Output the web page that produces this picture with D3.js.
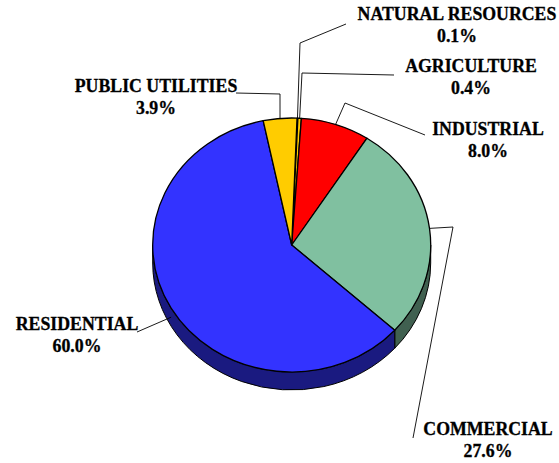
<!DOCTYPE html>
<html><head><meta charset="utf-8">
<script src="https://cdn.jsdelivr.net/npm/d3@7"></script>
<style>
html,body{margin:0;padding:0;background:#fff;}
svg{display:block;}
</style></head>
<body>
<svg id="c" width="559" height="463"></svg>
<script>
// Data (clockwise from 12 o'clock)
const categories = ["NATURAL RESOURCES","AGRICULTURE","INDUSTRIAL","COMMERCIAL","RESIDENTIAL","PUBLIC UTILITIES"];
const values = [0.1, 0.4, 8.0, 27.6, 60.0, 3.9];
const valueLabels = ["0.1%","0.4%","8.0%","27.6%","60.0%","3.9%"];

// Styles / layout
const topColors  = ["#3333FF","#FFCC00","#FF0000","#80C0A0","#3333FF","#FFCC00"];
const sideColors = ["#1A1A80","#806600","#800000","#406050","#1A1A80","#806600"];
const cx = 291.7, cy = 245, rx = 139, ry = 127, depth = 18;
const startAngle = 2.2 * Math.PI / 180;
// label layout: text centre x, first baseline y, elbow points
const labelLayout = [
  {tx:457, ty:20,  pts:[[300,43],[346,24]]},
  {tx:471, ty:72,  pts:[[302,73],[394,75]]},
  {tx:488, ty:135, pts:[[345,103],[425,135]]},
  {tx:488, ty:435, pts:[[453,227],[413,438]]},
  {tx:77,  ty:330, pts:[[137,332]]},
  {tx:156, ty:92,  pts:[[280,94],[236,93]]}
];

const svg = d3.select("#c");
const pie = d3.pie().sort(null).value(d => d).startAngle(startAngle).endAngle(startAngle + 2*Math.PI);
const arcs = pie(values);
const k = ry / rx;
const D = depth / k;
const g = svg.append("g").attr("transform", `translate(${cx},${cy}) scale(1,${k})`);

function sidePath(a, b) {
  const p = d3.path();
  p.moveTo(rx * Math.sin(a), -rx * Math.cos(a));
  p.arc(0, 0, rx, a - Math.PI/2, b - Math.PI/2, false);
  p.lineTo(rx * Math.sin(b), -rx * Math.cos(b) + D);
  p.arc(0, D, rx, b - Math.PI/2, a - Math.PI/2, true);
  p.closePath();
  return p.toString();
}
arcs.forEach((d, i) => {
  for (const off of [0, 2*Math.PI]) {
    const a = Math.max(d.startAngle - off, Math.PI/2);
    const b = Math.min(d.endAngle - off, 3*Math.PI/2);
    if (b > a) {
      g.append("path").attr("d", sidePath(a, b))
        .attr("fill", sideColors[i]).attr("stroke", "#000")
        .attr("stroke-width", 1).attr("vector-effect", "non-scaling-stroke")
        .attr("stroke-linejoin", "round");
    }
  }
});

const arcGen = d3.arc().innerRadius(0).outerRadius(rx);
g.selectAll("path.top").data(arcs).join("path").attr("class","top")
  .attr("d", arcGen)
  .attr("fill", (d,i) => topColors[i])
  .attr("stroke", "#000").attr("stroke-width", 1.3)
  .attr("vector-effect", "non-scaling-stroke")
  .attr("stroke-linejoin", "round");

const line = d3.line();
arcs.forEach((d, i) => {
  const m = (d.startAngle + d.endAngle) / 2;
  let ax = cx + rx * Math.sin(m);
  let ay = cy - ry * Math.cos(m);
  if (Math.cos(m) < 0) ay += depth / 2;
  const L = labelLayout[i];
  svg.append("path").attr("d", line([[ax, ay]].concat(L.pts))).attr("fill","none")
    .attr("stroke","#000").attr("stroke-width",0.9);
  const t = svg.append("text").attr("text-anchor","middle")
    .attr("font-family","Liberation Serif").attr("font-weight","bold")
    .attr("font-size",17.8).attr("fill","#000")
    .attr("stroke","#000").attr("stroke-width",0.3);
  t.append("tspan").attr("x", L.tx).attr("y", L.ty).text(categories[i]);
  t.append("tspan").attr("x", L.tx).attr("y", L.ty + 21.7).text(valueLabels[i]);
});
</script>
</body></html>
